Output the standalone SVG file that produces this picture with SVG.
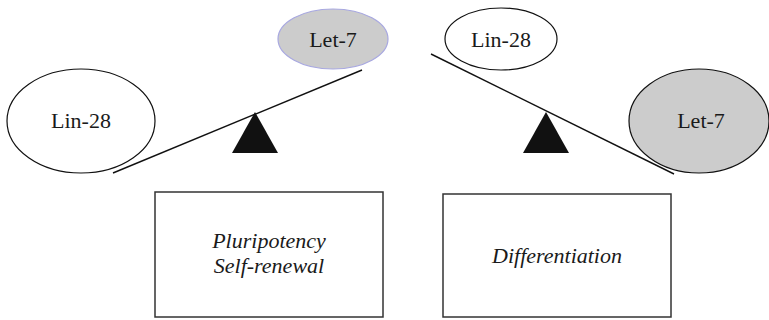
<svg xmlns="http://www.w3.org/2000/svg" width="769" height="320" viewBox="0 0 769 320">
<style>
text{font-family:'Liberation Serif','Times New Roman',Times,'DejaVu Serif',serif;font-size:22px;fill:#1a1a1a;text-anchor:middle}
.it{font-style:italic}
.ell{fill:#fff;stroke:#111;stroke-width:1.2}
.grey{fill:#cccccc}
.box{fill:#fff;stroke:#333;stroke-width:1.5}
.beam{stroke:#111;stroke-width:1.4;fill:none}
.fulcrum{fill:#111}
</style>
<rect width="769" height="320" fill="#fff"/>
<g id="connectors">
<line class="beam" x1="113" y1="173" x2="362" y2="70"/>
<line class="beam" x1="431" y1="54" x2="674" y2="174"/>
</g>
<g id="fulcrum-left"><polygon class="fulcrum" points="255,112 232,153 278,153"/></g>
<g id="fulcrum-right"><polygon class="fulcrum" points="546,112 523,153 569,153"/></g>
<g id="lin28-left">
<ellipse class="ell" cx="81" cy="121" rx="74" ry="52"/>
<text x="81" y="128">Lin-28</text>
</g>
<g id="let7-top">
<ellipse class="ell grey" cx="333" cy="39" rx="55" ry="30" style="stroke:#a8a8e0"/>
<text x="333" y="47">Let-7</text>
</g>
<g id="lin28-right">
<ellipse class="ell" cx="501" cy="39" rx="56" ry="31"/>
<text x="501" y="47">Lin-28</text>
</g>
<g id="let7-right">
<ellipse class="ell grey" cx="699" cy="121" rx="70" ry="52"/>
<text x="701" y="128">Let-7</text>
</g>
<g id="box-pluripotency">
<rect class="box" x="155" y="192" width="228" height="125"/>
<text class="it" x="269" y="248">Pluripotency</text>
<text class="it" x="269" y="273">Self-renewal</text>
</g>
<g id="box-differentiation">
<rect class="box" x="443" y="194" width="228" height="123"/>
<text class="it" x="557" y="263">Differentiation</text>
</g>
</svg>
